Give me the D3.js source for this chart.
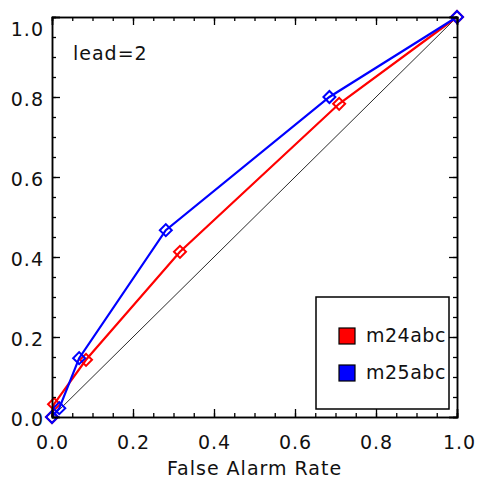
<!DOCTYPE html>
<html>
<head>
<meta charset="utf-8">
<script src="https://cdn.jsdelivr.net/npm/d3@7"></script>
<style>
  html, body { margin: 0; padding: 0; background: #fff; }
  svg { display: block; }
  text { font-family: "DejaVu Sans", sans-serif; fill: #111; }
</style>
</head>
<body>
<svg id="chart" width="477" height="482"></svg>
<script>
// ROC curves, lead = 2: false alarm rate vs hit rate
const seriesNames = ["m24abc", "m25abc"];
const seriesColors = ["#ff0000", "#0000ff"];
const m24abcFar = [0.0, 0.005, 0.084, 0.316, 0.709, 1.0];
const m24abcHit = [0.0, 0.032, 0.143, 0.413, 0.783, 1.0];
const m25abcFar = [0.0, 0.018, 0.067, 0.281, 0.685, 1.0];
const m25abcHit = [0.0, 0.022, 0.147, 0.467, 0.800, 1.0];
const majorTicks = [0, 0.2, 0.4, 0.6, 0.8, 1.0];
const minorTicks = d3.range(0, 21).map(i => i * 0.05);
const xTitle = "False Alarm Rate";
const annotation = "lead=2";

const svg = d3.select("#chart");
const plotLeft = 52, plotRight = 457, plotTop = 17, plotBottom = 417;

const x = d3.scaleLinear().domain([0, 1]).range([plotLeft, plotRight]);
const y = d3.scaleLinear().domain([0, 1]).range([plotBottom, plotTop]);
const fmt = d3.format(".1f");

// no-skill diagonal
svg.append("line")
  .attr("x1", x(0)).attr("y1", y(0)).attr("x2", x(1)).attr("y2", y(1))
  .attr("stroke", "#111").attr("stroke-width", 0.9);

// curves
const series = [
  { name: seriesNames[0], color: seriesColors[0], pts: m24abcFar.map((v, i) => [v, m24abcHit[i]]) },
  { name: seriesNames[1], color: seriesColors[1], pts: m25abcFar.map((v, i) => [v, m25abcHit[i]]) }
];
const line = d3.line().x(d => x(d[0])).y(d => y(d[1]));
const diamond = d3.symbol().type(d3.symbolSquare).size(72);

series.forEach(s => {
  const g = svg.append("g");
  g.append("path").datum(s.pts).attr("d", line)
    .attr("fill", "none").attr("stroke", s.color).attr("stroke-width", 2.2);
  g.selectAll("path.mk").data(s.pts).join("path").attr("class", "mk")
    .attr("d", diamond)
    .attr("transform", d => `translate(${x(d[0])},${y(d[1])}) rotate(45)`)
    .attr("fill", "none").attr("stroke", s.color).attr("stroke-width", 2);
});

// axes: box with inward ticks on all four sides
function styleAxis(g) {
  g.select(".domain").attr("stroke", "#000").attr("stroke-width", 1.5);
  g.selectAll(".tick line").attr("stroke", "#000").attr("stroke-width", 1.3);
}
const labelStyle = g => g.selectAll("text")
  .style("font-size", "19px").style("letter-spacing", "1px").attr("fill", "#111");

// minor ticks
svg.append("g").attr("transform", `translate(0,${plotBottom})`)
  .call(d3.axisBottom(x).tickValues(minorTicks).tickSize(-4).tickFormat("")).call(styleAxis);
svg.append("g").attr("transform", `translate(0,${plotTop})`)
  .call(d3.axisTop(x).tickValues(minorTicks).tickSize(-4).tickFormat("")).call(styleAxis);
svg.append("g").attr("transform", `translate(${plotLeft},0)`)
  .call(d3.axisLeft(y).tickValues(minorTicks).tickSize(-4).tickFormat("")).call(styleAxis);
svg.append("g").attr("transform", `translate(${plotRight},0)`)
  .call(d3.axisRight(y).tickValues(minorTicks).tickSize(-4).tickFormat("")).call(styleAxis);

// major ticks with labels
const xAxisG = svg.append("g").attr("transform", `translate(0,${plotBottom})`)
  .call(d3.axisBottom(x).tickValues(majorTicks).tickSize(-8).tickPadding(19).tickFormat(fmt))
  .call(styleAxis).call(labelStyle);
xAxisG.selectAll(".tick").filter(d => d === 1).select("text").attr("dx", "2");

svg.append("g").attr("transform", `translate(0,${plotTop})`)
  .call(d3.axisTop(x).tickValues(majorTicks).tickSize(-8).tickFormat("")).call(styleAxis);

const yAxisG = svg.append("g").attr("transform", `translate(${plotLeft},0)`)
  .call(d3.axisLeft(y).tickValues(majorTicks).tickSize(-8).tickPadding(8).tickFormat(fmt))
  .call(styleAxis).call(labelStyle);
yAxisG.selectAll("text").attr("dy", "0.45em");
yAxisG.selectAll(".tick").filter(d => d === 1).select("text").attr("dy", "0.95em");

svg.append("g").attr("transform", `translate(${plotRight},0)`)
  .call(d3.axisRight(y).tickValues(majorTicks).tickSize(-8).tickFormat("")).call(styleAxis);

// x title
svg.append("text")
  .attr("x", (plotLeft + plotRight) / 2).attr("y", 475)
  .attr("text-anchor", "middle")
  .style("font-size", "19px").style("letter-spacing", "1px")
  .text(xTitle);

// annotation
svg.append("text")
  .attr("x", 73).attr("y", 60)
  .style("font-size", "19px").style("letter-spacing", "1px")
  .text(annotation);

// legend
const legend = svg.append("g");
legend.append("rect")
  .attr("x", 316).attr("y", 297).attr("width", 133).attr("height", 112)
  .attr("fill", "#fff").attr("stroke", "#000").attr("stroke-width", 1.5);
series.forEach((s, i) => {
  const cy = 336 + i * 37;
  legend.append("rect")
    .attr("x", 339).attr("y", cy - 8).attr("width", 16).attr("height", 16)
    .attr("fill", s.color).attr("stroke", "#000").attr("stroke-width", 1.2);
  legend.append("text")
    .attr("x", 366).attr("y", cy + 6)
    .style("font-size", "19px").style("letter-spacing", "0.5px")
    .text(s.name);
});
</script>
</body>
</html>
